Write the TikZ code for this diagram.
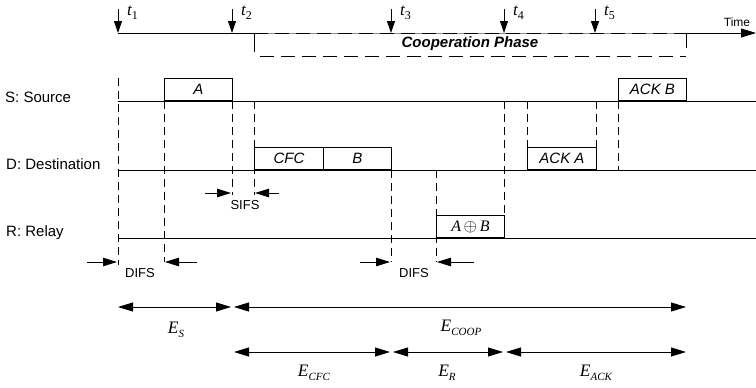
\documentclass[tikz,border=0pt]{standalone}
\usepackage{fontspec}
\setmainfont{Liberation Sans}
\newfontfamily\tms{Liberation Serif}
\usetikzlibrary{arrows.meta}
\newcommand\Elab[1]{{\tms\itshape E}\raisebox{-4.5pt}{\fontsize{11}{12}\selectfont\tms\itshape #1}}
\newcommand\tlab[1]{{\tms\itshape t}\raisebox{-4pt}{\fontsize{12}{12}\selectfont\tms #1}}
\tikzset{
  x=1pt, y=-1pt,
  every node/.style={inner sep=0pt},
  tline/.style={line width=0.9pt},
  pkt/.style={draw, line width=0.9pt, anchor=south west, inner sep=0pt, minimum height=22pt,
              font=\fontsize{15}{18}\selectfont\itshape},
  vd/.style={line width=0.8pt, dash pattern=on 8pt off 5pt},
  tipr/.style={line width=0.9pt, -{Triangle[length=14pt,width=8.5pt]}},
  dbl/.style={line width=0.9pt, {Triangle[length=15pt,width=9pt]}-{Triangle[length=15pt,width=9pt]}},
  tdown/.style={line width=0.9pt, -{Triangle[length=12pt,width=8pt]}},
  rowlab/.style={font=\fontsize{15}{18}\selectfont, anchor=west},
  ifs/.style={font=\fontsize{13}{15}\selectfont},
  elab/.style={font=\fontsize{17.5}{20}\selectfont},
  tl/.style={font=\fontsize{17}{18}\selectfont},
}
\begin{document}
\begin{tikzpicture}
\useasboundingbox (0,0) rectangle (756,388);
% time axis
\coordinate (ax0) at (118,33);
\coordinate (ax1) at (756,33);
\draw[line width=0.9pt, -{Triangle[length=15pt,width=9pt]}] (ax0) -- (ax1);
\node[font=\fontsize{12}{14}\selectfont] (time) at (737,22) {Time};
% cooperation phase box
\coordinate (cp1) at (254,33); \coordinate (cp2) at (686,33);
\draw[line width=0.9pt, black!45] (cp1) -- (cp2);
\draw[line width=0.9pt, dash pattern=on 14pt off 7pt] (cp1) -- (cp2);
\draw[line width=0.9pt] (254,33) -- (254,52);
\draw[line width=0.9pt] (686,33) -- (686,48);
\draw[line width=0.9pt, dash pattern=on 14pt off 7pt] (260,56) -- (686,56);
\node[font=\fontsize{15}{18}\selectfont\bfseries\itshape] (coop) at (470,44) {Cooperation Phase};
% t arrows
\foreach \n/\x in {1/118,2/232,3/391,4/504,5/595}{
  \draw[tdown] (\x,9) -- (\x,33);
  \node[tl, anchor=west] (t\n) at (\x+9,13) {\tlab{\n}};
}
% row lines
\node[rowlab] (S) at (5,97) {S: Source};
\node[rowlab] (D) at (6,164) {D: Destination};
\node[rowlab] (R) at (6,233) {R: Relay};
\coordinate (s0) at (118,101); \coordinate (s1) at (756,101);
\coordinate (d0) at (118,170); \coordinate (d1) at (756,170);
\coordinate (r0) at (118,238); \coordinate (r1) at (756,238);
\draw[tline] (s0) -- (s1);
\draw[tline] (d0) -- (d1);
\draw[tline] (r0) -- (r1);
% packets
\node[pkt, minimum width=68pt] (A) at (164,101) {A};
\node[pkt, minimum width=68pt] (ACKB) at (618,101) {ACK B};
\node[pkt, minimum width=69pt] (CFC) at (254,170) {CFC};
\node[pkt, minimum width=68pt] (B) at (323,170) {B};
\node[pkt, minimum width=69pt] (ACKA) at (527,170) {ACK A};
\node[pkt, minimum width=68pt, font=\fontsize{16}{18}\selectfont] (AB) at (436,238) {{\tms\itshape A}\,$\oplus$\,{\tms\itshape B}};
% dashed guides
\draw[vd] (118,78) -- (118,265);
\draw[vd] (164,101) -- (164,262);
\draw[vd] (232,101) -- (232,195);
\draw[vd] (254,101) -- (254,195);
\draw[vd] (391,170) -- (391,262);
\draw[vd] (436,170) -- (436,262);
\draw[vd] (504,101) -- (504,238);
\draw[vd] (527,101) -- (527,147);
\draw[vd] (596,101) -- (596,147);
\draw[vd] (618,101) -- (618,170);
% SIFS / DIFS
\draw[tipr] (205,193) -- (231,193);
\draw[tipr] (279,193) -- (255,193);
\node[ifs] (sifs) at (245,205) {SIFS};
\draw[tipr] (87,262) -- (117,262);
\draw[tipr] (197,262) -- (165,262);
\node[ifs] (difs1) at (140,273) {DIFS};
\draw[tipr] (360,262) -- (390,262);
\draw[tipr] (474,262) -- (437,262);
\node[ifs] (difs2) at (414,273) {DIFS};
% energy arrows
\draw[dbl] (118,307) -- (231,307);
\draw[dbl] (234,307) -- (686,307);
\draw[dbl] (234,352) -- (390,352);
\draw[dbl] (393,352) -- (503,352);
\draw[dbl] (506,352) -- (686,352);
\node[elab] (ES) at (176,330) {\Elab{S}};
\node[elab] (ECOOP) at (461,328) {\Elab{COOP}};
\node[elab] (ECFC) at (314,373) {\Elab{CFC}};
\node[elab] (ER) at (447,373) {\Elab{R}};
\node[elab] (EACK) at (596,373) {\Elab{ACK}};
\end{tikzpicture}
\end{document}
